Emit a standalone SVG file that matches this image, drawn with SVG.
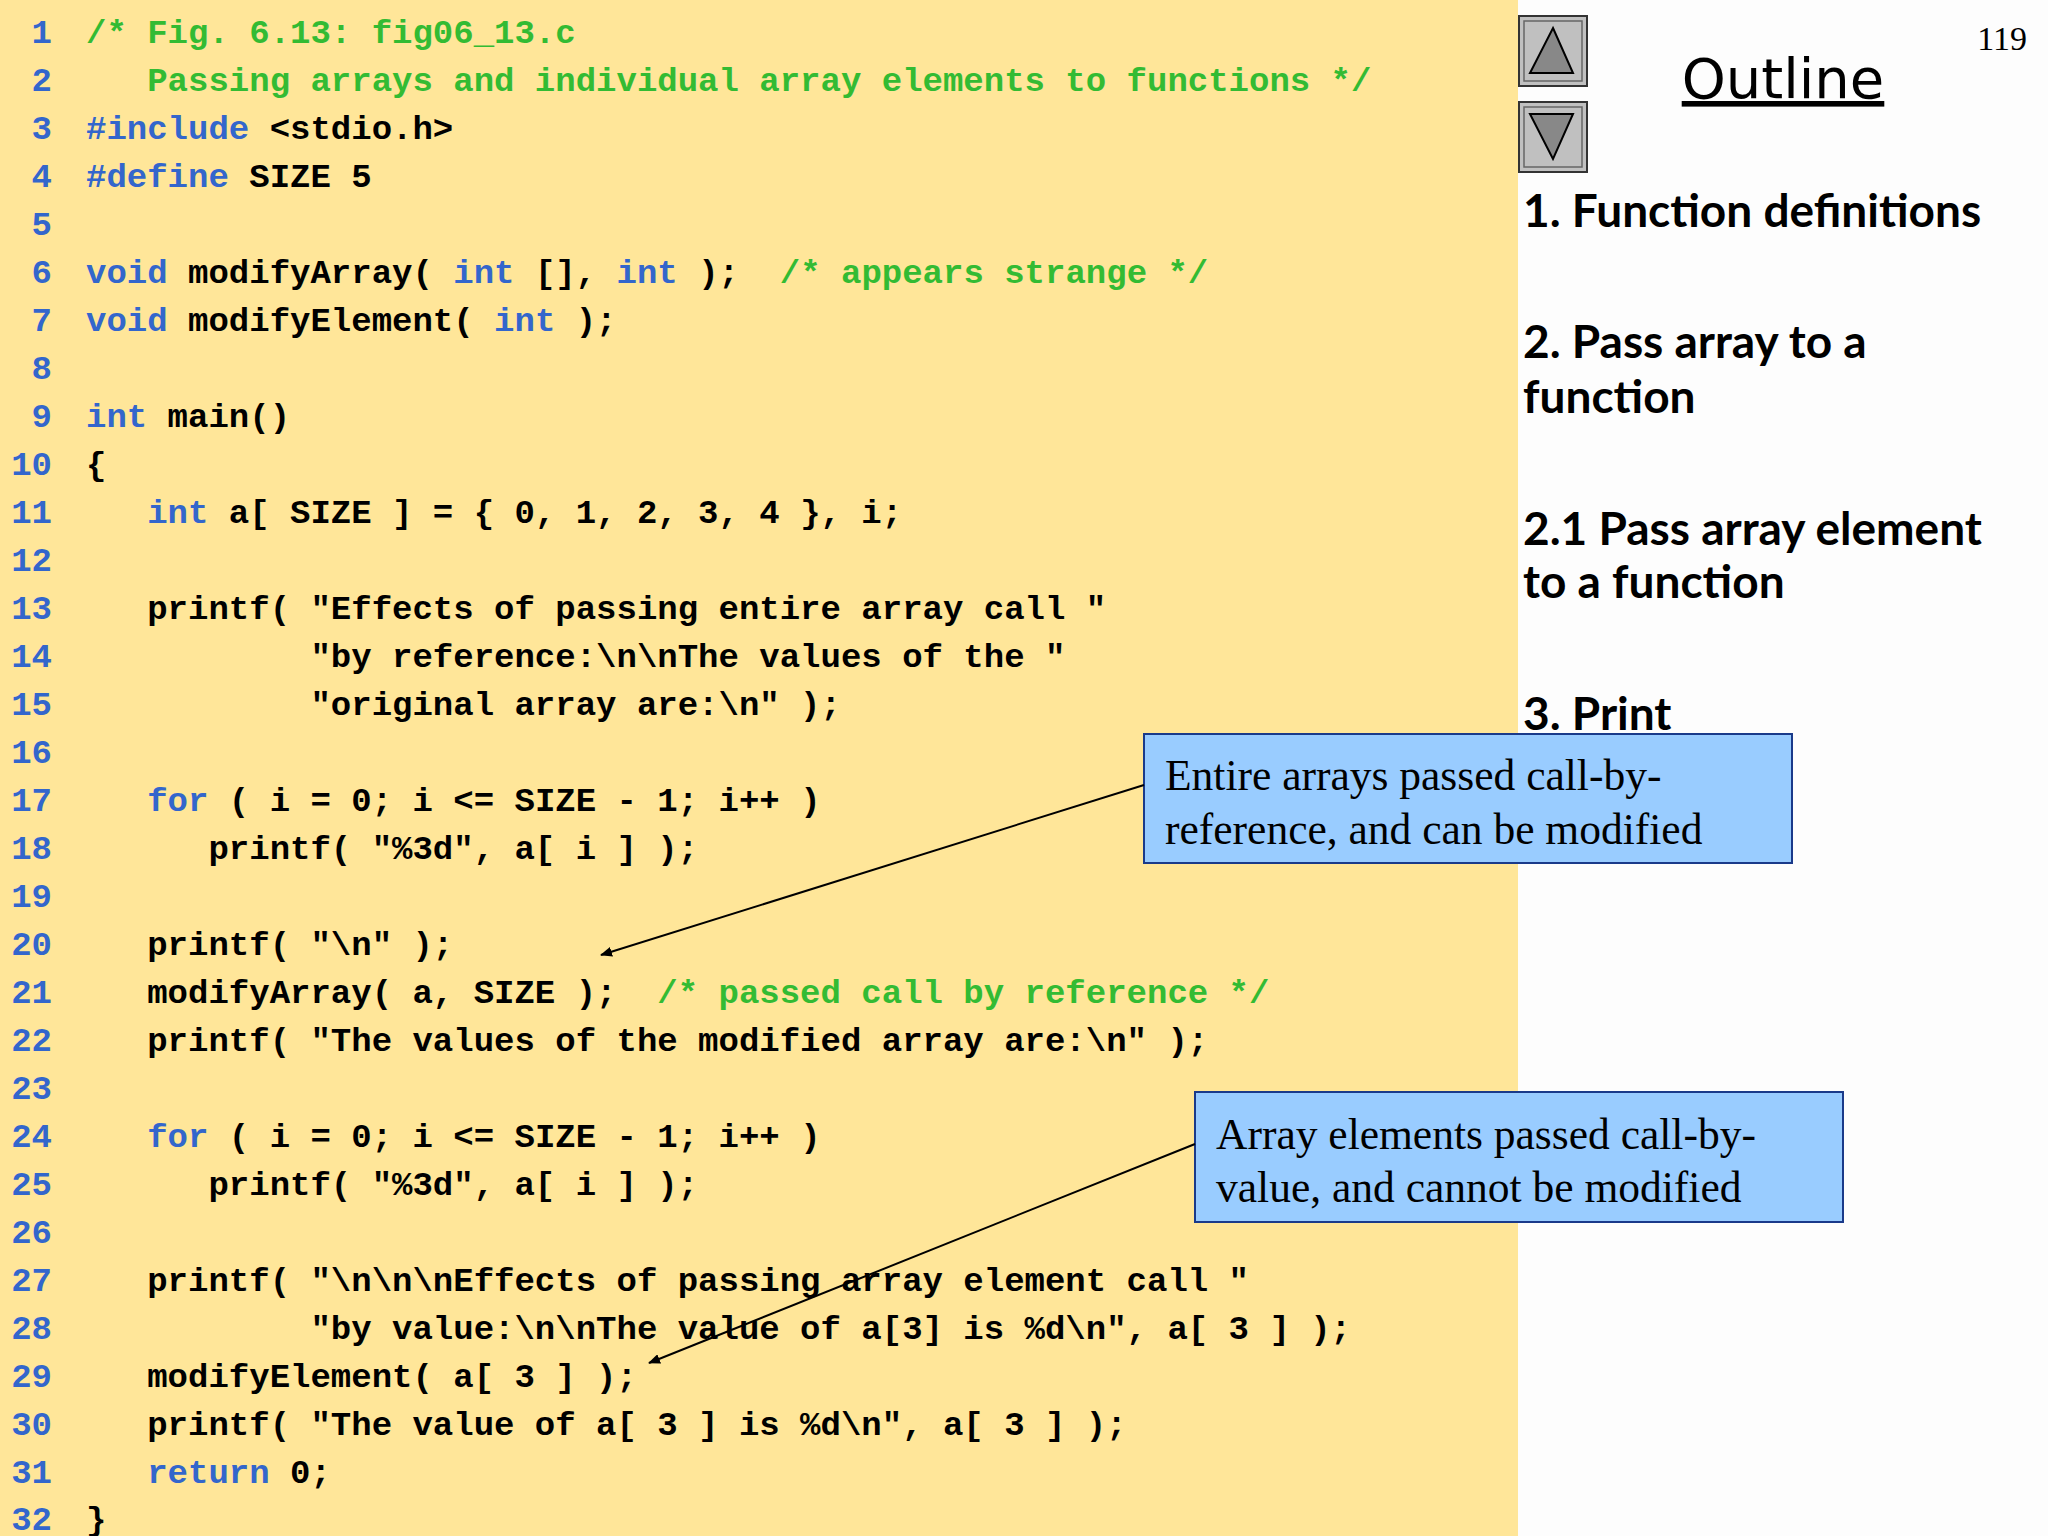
<svg xmlns="http://www.w3.org/2000/svg" width="2048" height="1536" viewBox="0 0 2048 1536">
<style>
.ln{font-family:"Liberation Mono",monospace;font-weight:bold;font-size:34px;fill:#3366cc;text-anchor:end}
.c{font-family:"Liberation Mono",monospace;font-weight:bold;font-size:34px;fill:#000;white-space:pre}
.k{fill:#3366cc}.g{fill:#33bb33}
.o{font-family:"Lato","DejaVu Sans",sans-serif;font-weight:bold;font-size:46px;fill:#000}
.t{font-family:"Liberation Serif",serif;font-size:43.5px;fill:#000}
.box{fill:#99ccff;stroke:#1a3a8a;stroke-width:2}
</style>
<defs><marker id="ah" markerWidth="12" markerHeight="10" refX="11" refY="5" orient="auto" markerUnits="userSpaceOnUse"><path d="M0,0L12,5L0,10z" fill="#000"/></marker></defs>
<rect width="2048" height="1536" fill="#fdfdfd"/>
<rect width="1518" height="1536" fill="#ffe699"/>
<g id="lines">
<text class="ln" x="52" y="43">1</text><text class="ln" x="52" y="91">2</text><text class="ln" x="52" y="139">3</text><text class="ln" x="52" y="187">4</text><text class="ln" x="52" y="235">5</text><text class="ln" x="52" y="283">6</text><text class="ln" x="52" y="331">7</text><text class="ln" x="52" y="379">8</text><text class="ln" x="52" y="427">9</text><text class="ln" x="52" y="475">10</text><text class="ln" x="52" y="523">11</text><text class="ln" x="52" y="571">12</text><text class="ln" x="52" y="619">13</text><text class="ln" x="52" y="667">14</text><text class="ln" x="52" y="715">15</text><text class="ln" x="52" y="763">16</text><text class="ln" x="52" y="811">17</text><text class="ln" x="52" y="859">18</text><text class="ln" x="52" y="907">19</text><text class="ln" x="52" y="955">20</text><text class="ln" x="52" y="1003">21</text><text class="ln" x="52" y="1051">22</text><text class="ln" x="52" y="1099">23</text><text class="ln" x="52" y="1147">24</text><text class="ln" x="52" y="1195">25</text><text class="ln" x="52" y="1243">26</text><text class="ln" x="52" y="1291">27</text><text class="ln" x="52" y="1339">28</text><text class="ln" x="52" y="1387">29</text><text class="ln" x="52" y="1435">30</text><text class="ln" x="52" y="1483">31</text><text class="ln" x="52" y="1530">32</text>
</g>
<g id="code" xml:space="preserve">
<text class="c g" x="86" y="43">/* Fig. 6.13: fig06_13.c</text>
<text class="c g" x="86" y="91">   Passing arrays and individual array elements to functions */</text>
<text class="c" x="86" y="139"><tspan class="k">#include</tspan> &lt;stdio.h&gt;</text>
<text class="c" x="86" y="187"><tspan class="k">#define</tspan> SIZE 5</text>
<text class="c" x="86" y="283"><tspan class="k">void</tspan> modifyArray( <tspan class="k">int</tspan> [], <tspan class="k">int</tspan> );  <tspan class="g">/* appears strange */</tspan></text>
<text class="c" x="86" y="331"><tspan class="k">void</tspan> modifyElement( <tspan class="k">int</tspan> );</text>
<text class="c" x="86" y="427"><tspan class="k">int</tspan> main()</text>
<text class="c" x="86" y="475">{</text>
<text class="c" x="86" y="523">   <tspan class="k">int</tspan> a[ SIZE ] = { 0, 1, 2, 3, 4 }, i;</text>
<text class="c" x="86" y="619">   printf( "Effects of passing entire array call "</text>
<text class="c" x="86" y="667">           "by reference:\n\nThe values of the "</text>
<text class="c" x="86" y="715">           "original array are:\n" );</text>
<text class="c" x="86" y="811">   <tspan class="k">for</tspan> ( i = 0; i &lt;= SIZE - 1; i++ )</text>
<text class="c" x="86" y="859">      printf( "%3d", a[ i ] );</text>
<text class="c" x="86" y="955">   printf( "\n" );</text>
<text class="c" x="86" y="1003">   modifyArray( a, SIZE );  <tspan class="g">/* passed call by reference */</tspan></text>
<text class="c" x="86" y="1051">   printf( "The values of the modified array are:\n" );</text>
<text class="c" x="86" y="1147">   <tspan class="k">for</tspan> ( i = 0; i &lt;= SIZE - 1; i++ )</text>
<text class="c" x="86" y="1195">      printf( "%3d", a[ i ] );</text>
<text class="c" x="86" y="1291">   printf( "\n\n\nEffects of passing array element call "</text>
<text class="c" x="86" y="1339">           "by value:\n\nThe value of a[3] is %d\n", a[ 3 ] );</text>
<text class="c" x="86" y="1387">   modifyElement( a[ 3 ] );</text>
<text class="c" x="86" y="1435">   printf( "The value of a[ 3 ] is %d\n", a[ 3 ] );</text>
<text class="c" x="86" y="1483">   <tspan class="k">return</tspan> 0;</text>
<text class="c" x="86" y="1530">}</text>
</g>
<g id="nav">
<rect x="1519" y="16" width="68" height="70" fill="#c0c0c0" stroke="#333" stroke-width="2"/>
<rect x="1524" y="21" width="58" height="60" fill="none" stroke="#666" stroke-width="1.5"/>
<path d="M1553,28L1573,73L1530,73z" fill="#888" stroke="#000" stroke-width="2"/>
<rect x="1519" y="102" width="68" height="70" fill="#c0c0c0" stroke="#333" stroke-width="2"/>
<rect x="1524" y="107" width="58" height="60" fill="none" stroke="#666" stroke-width="1.5"/>
<path d="M1530,114L1573,114L1553,159z" fill="#888" stroke="#000" stroke-width="2"/>
</g>
<text x="2027" y="50" text-anchor="end" font-family="Liberation Serif,serif" font-size="34">119</text>
<g id="outline">
<text x="1783" y="98" text-anchor="middle" font-family="'DejaVu Sans',sans-serif" font-size="56" text-decoration="underline">Outline</text>
<text class="o" x="1523" y="227">1. Function definitions</text>
<text class="o" x="1523" y="358">2. Pass array to a</text>
<text class="o" x="1523" y="413">function</text>
<text class="o" x="1523" y="545">2.1 Pass array element</text>
<text class="o" x="1523" y="598">to a function</text>
<text class="o" x="1523" y="730">3. Print</text>
</g>
<g id="callout1">
<rect class="box" x="1144" y="734" width="648" height="129"/>
<text class="t" x="1165" y="790">Entire arrays passed call-by-</text>
<text class="t" x="1165" y="844">reference, and can be modified</text>
</g>
<g id="callout2">
<rect class="box" x="1195" y="1092" width="648" height="130"/>
<text class="t" x="1216" y="1149">Array elements passed call-by-</text>
<text class="t" x="1216" y="1202">value, and cannot be modified</text>
</g>
<g id="connectors" stroke="#000" stroke-width="2" marker-end="url(#ah)">
<line x1="1144" y1="785" x2="601" y2="955"/>
<line x1="1195" y1="1144" x2="649" y2="1363"/>
</g>
</svg>
